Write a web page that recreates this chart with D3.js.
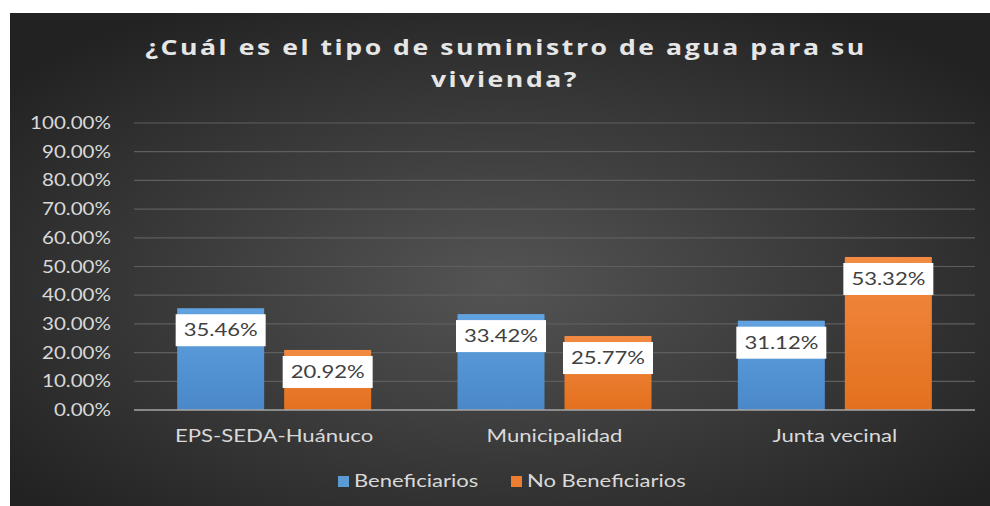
<!DOCTYPE html>
<html><head><meta charset="utf-8">
<script src="https://cdn.jsdelivr.net/npm/d3@7"></script>
<style>html,body{margin:0;padding:0;background:#fff;overflow:hidden}</style>
</head><body><svg id="c" width="990" height="506"></svg>
<script>
const titleLines = ["¿Cuál es el tipo de suministro de agua para su", "vivienda?"];
const categories = ["EPS-SEDA-Huánuco", "Municipalidad", "Junta vecinal"];
const seriesNames = ["Beneficiarios", "No Beneficiarios"];
const beneficiarios = [35.46, 33.42, 31.12];
const noBeneficiarios = [20.92, 25.77, 53.32];
const yTicks = [0, 10, 20, 30, 40, 50, 60, 70, 80, 90, 100];
const colors = ["#5b9bd5", "#ed7d31"];

const svg = d3.select("#c");
const defs = svg.append("defs");
const bg = defs.append("radialGradient").attr("id","bg").attr("cx","50%").attr("cy","55%").attr("r","65%");
bg.append("stop").attr("offset","0%").attr("stop-color","#545454");
bg.append("stop").attr("offset","100%").attr("stop-color","#222222");
const gb = defs.append("linearGradient").attr("id","gb").attr("x1",0).attr("y1",0).attr("x2",0).attr("y2",1);
gb.append("stop").attr("offset","0%").attr("stop-color","#61a2e0");
gb.append("stop").attr("offset","100%").attr("stop-color","#4a88c9");
const go = defs.append("linearGradient").attr("id","go").attr("x1",0).attr("y1",0).attr("x2",0).attr("y2",1);
go.append("stop").attr("offset","0%").attr("stop-color","#f28a42");
go.append("stop").attr("offset","100%").attr("stop-color","#e3701e");
const fills = ["url(#gb)", "url(#go)"];

svg.append("rect").attr("x",10).attr("y",13).attr("width",980).attr("height",493).attr("fill","url(#bg)");

// helper: text scaled horizontally so a reference string reaches a target width
function measure(str, font, size, weight, ls){
  const t = svg.append("text").attr("font-family",font).attr("font-size",size)
    .attr("font-weight",weight||"normal").attr("letter-spacing",ls||0).text(str);
  const w = t.node().getBBox().width; t.remove(); return w;
}
function stxt(parent, str, x, y, anchor, sx, font, size, fill, weight, ls){
  return parent.append("text").attr("transform",`translate(${x},${y}) scale(${sx},1)`)
    .attr("text-anchor",anchor).attr("fill",fill).attr("font-family",font)
    .attr("font-size",size).attr("font-weight",weight||"normal").attr("letter-spacing",ls||0).text(str);
}

// title
const TF = "'Open Sans', sans-serif";
const tsx = 722 / measure(titleLines[0], TF, 21, "bold", 2);
stxt(svg, titleLines[0], 506, 55, "middle", tsx, TF, 21, "#e6e6e6", "bold", 2);
stxt(svg, titleLines[1], 505, 87, "middle", tsx, TF, 21, "#e6e6e6", "bold", 2);

const x0 = d3.scaleBand().domain(categories).range([134, 975]);
const y = d3.scaleLinear().domain([0, 100]).range([410, 123]);

// gridlines
svg.append("g").selectAll("line").data(yTicks.filter(d=>d>0)).join("line")
  .attr("x1",134).attr("x2",975).attr("y1",d=>y(d)).attr("y2",d=>y(d))
  .attr("stroke","#5e5e5e").attr("stroke-width",1.2);

// y tick labels
const LF = "Lato, sans-serif";
const fmt = d => d.toFixed(2) + "%";
const ysx = 81 / measure(fmt(100), LF, 17);
const yg = svg.append("g");
yTicks.forEach(t => stxt(yg, fmt(t), 111, y(t)+6, "end", ysx, LF, 17, "#d9d9d9"));

const bw = 87, gap = 20;
const data = [];
categories.forEach((c,i)=>{
  data.push({c, s:0, v:beneficiarios[i]});
  data.push({c, s:1, v:noBeneficiarios[i]});
});
const cx = d => x0(d.c) + x0.bandwidth()/2 + (d.s===0 ? -(gap/2+bw/2) : (gap/2+bw/2));

svg.append("g").selectAll("rect").data(data).join("rect")
  .attr("x",d=>cx(d)-bw/2).attr("width",bw)
  .attr("y",d=>y(d.v)).attr("height",d=>y(0)-y(d.v))
  .attr("fill",d=>fills[d.s]);

// axis line
svg.append("line").attr("x1",134).attr("x2",975).attr("y1",y(0)).attr("y2",y(0))
  .attr("stroke","#a6a6a6").attr("stroke-width",1.5);

// data labels
const dsx = 74 / measure(fmt(35.46), LF, 17.5);
const lg = svg.append("g");
data.forEach(d=>{
  const str = fmt(d.v);
  const w = measure(str, LF, 17.5) * dsx;
  lg.append("rect").attr("x",cx(d)-w/2-8).attr("width",w+16)
    .attr("y",y(d.v)+6).attr("height",32).attr("fill","#ffffff");
  stxt(lg, str, cx(d), y(d.v)+28, "middle", dsx, LF, 17.5, "#404040");
});

// x axis labels
const csx = 136 / measure(categories[1], LF, 17);
const cg = svg.append("g");
categories.forEach(c => stxt(cg, c, x0(c)+x0.bandwidth()/2, 442, "middle", csx, LF, 17, "#d9d9d9"));

// legend
const lsx = 159 / measure(seriesNames[1], LF, 17);
const legX = [338, 511];
const leg = svg.append("g");
seriesNames.forEach((n,i)=>{
  leg.append("rect").attr("x",legX[i]).attr("y",476).attr("width",11).attr("height",11).attr("fill",colors[i]);
  stxt(leg, n, legX[i]+16, 487, "start", lsx, LF, 17, "#d9d9d9");
});
</script></body></html>
